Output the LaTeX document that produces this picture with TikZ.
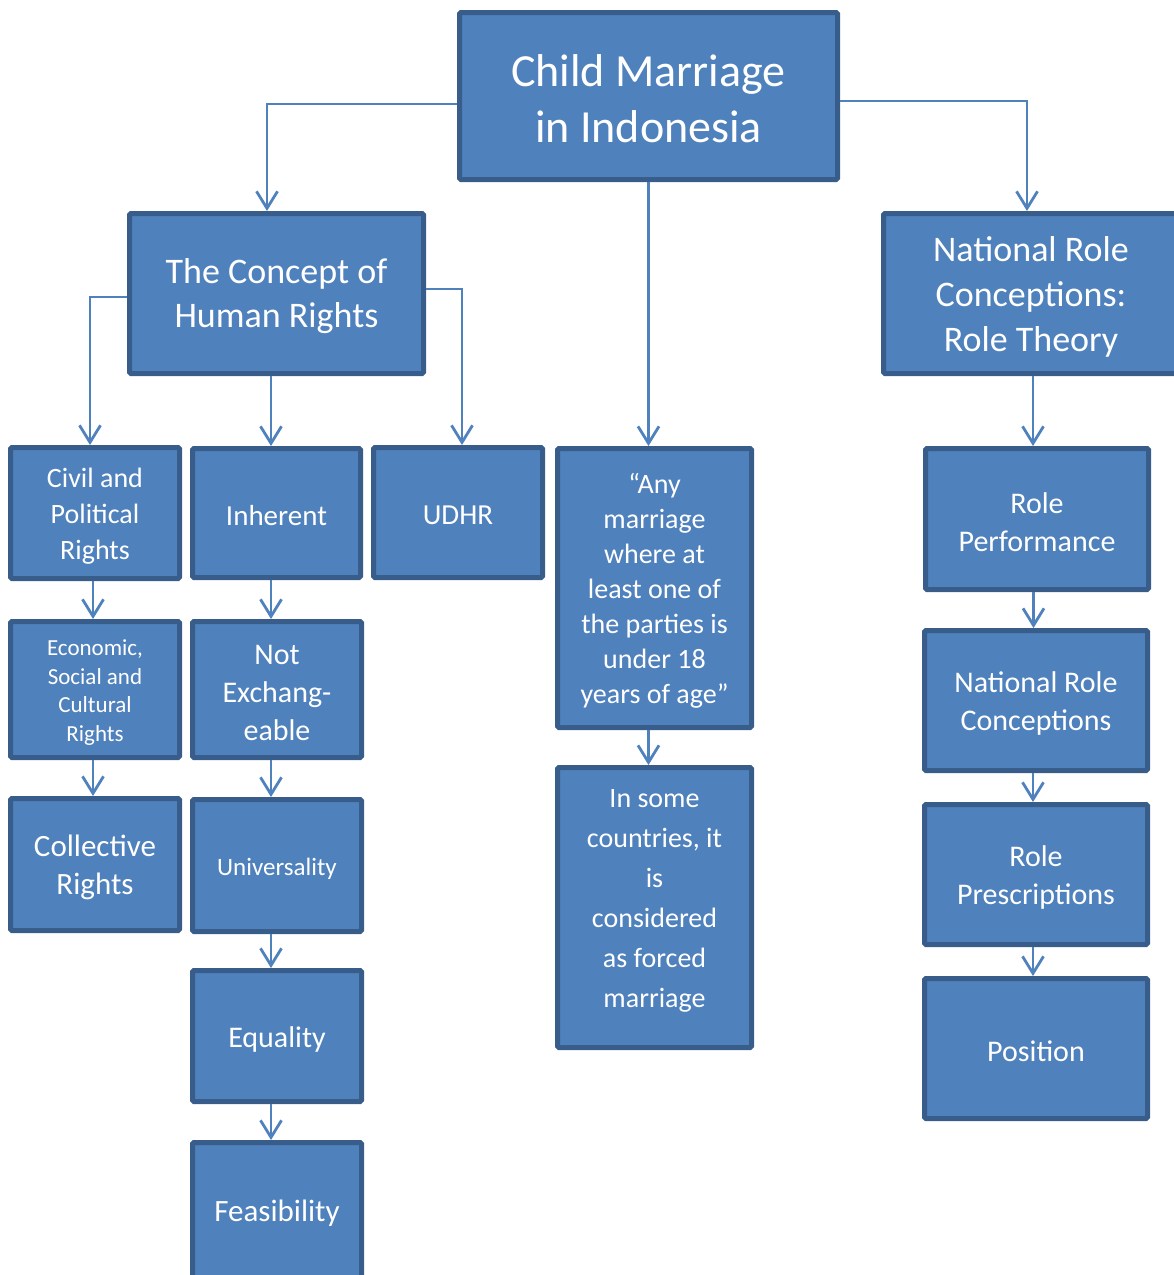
\documentclass[tikz,border=0pt]{standalone}
\usepackage{fontspec}
\setmainfont{Carlito}
\usetikzlibrary{arrows.meta}
\definecolor{boxfill}{HTML}{4F81BD}
\definecolor{boxline}{HTML}{385D8A}
\definecolor{conncol}{HTML}{4F81BD}
\tikzset{
  box/.style={rectangle, fill=boxfill, draw=boxline, line width=5pt, rounded corners=1.5pt, inner sep=0pt},
  lbl/.style={text=white, align=center, inner sep=0pt},
  conn/.style={draw=conncol, line width=2.8pt, -{Straight Barb[length=17pt,width=21pt,line width=2.8pt]}}
}
\newcommand\fs[2]{\fontsize{#1}{#2}\selectfont}
% [text shift] x1 y1 x2 y2 name font text
\newcommand\boxat[8][-3]{%
  \node[box, minimum width={#4-#2-5}, minimum height={#5-#3-5}] (#6) at ({(#2+#4)/2},{(#3+#5)/2}) {};
  \node[lbl, font=#7] (#6t) at ([yshift=#1]#6.center) {#8};}
\begin{document}
\begin{tikzpicture}[x=1pt,y=-1pt]
\useasboundingbox (0,0) rectangle (1174,1275);
\clip (0,0) rectangle (1174,1275);
% boxes
\boxat{457}{10}{840}{182}{top}{\fs{46}{56}}{Child Marriage\\in Indonesia}
\boxat{127}{211}{426}{376}{hr}{\fs{36}{44}}{The Concept of\\Human Rights}
\boxat{881}{211}{1181}{376}{nrc}{\fs{36}{45}}{National Role\\Conceptions:\\Role Theory}
\boxat{8}{445}{182}{581}{civil}{\fs{28}{36}}{Civil and\\Political\\Rights}
\boxat{190}{446}{363}{580}{inh}{\fs{29}{36}}{Inherent}
\boxat{371}{445}{545}{580}{udhr}{\fs{29}{36}}{UDHR}
\boxat{555}{446}{754}{730}{any}{\fs{28}{35}}{“Any\\marriage\\where at\\least one of\\the parties is\\under 18\\years of age”}
\boxat[7]{555}{765}{754}{1050}{forced}{\fs{28}{40}}{In some\\countries, it\\is\\considered\\as forced\\marriage}
\boxat{923}{446}{1151}{592}{rp}{\fs{30}{38}}{Role\\Performance}
\boxat{922}{628}{1150}{773}{nrc2}{\fs{30}{38}}{National Role\\Conceptions}
\boxat{922}{802}{1150}{947}{rpr}{\fs{30}{38}}{Role\\Prescriptions}
\boxat{922}{976}{1150}{1121}{pos}{\fs{30}{38}}{Position}
\boxat{8}{619}{182}{760}{econ}{\fs{23}{28.5}}{Economic,\\Social and\\Cultural\\Rights}
\boxat{190}{619}{364}{760}{nex}{\fs{30}{38}}{Not\\Exchang-\\eable}
\boxat{8}{796}{182}{933}{coll}{\fs{31}{38}}{Collective\\Rights}
\boxat{190}{797}{364}{934}{univ}{\fs{25}{32}}{Universality}
\boxat{190}{968}{364}{1104}{equ}{\fs{30}{38}}{Equality}
\boxat{190}{1140}{364}{1280}{feas}{\fs{31}{38}}{Feasibility}
% connectors
\draw[conn] ([yshift=-8]top.west) -| ([xshift=-9.5]hr.north);
\draw[conn] ([yshift=-5]top.east) -| ([xshift=-4]nrc.north);
\draw[conn] (top.south) -- (top.south |- any.north);
\draw[conn] ([yshift=-3.5]hr.west) -| ([xshift=-5]civil.north);
\draw[conn] ([xshift=-5.5]hr.south) -- ([xshift=-5.5]hr.south |- inh.north);
\draw[conn] ([yshift=4.5]hr.east) -| ([xshift=4]udhr.north);
\draw[conn] ([xshift=-2]civil.south) -- ([xshift=-2]civil.south |- econ.north);
\draw[conn] ([xshift=-2]econ.south) -- ([xshift=-2]econ.south |- coll.north);
\draw[conn] ([xshift=-5.5]inh.south) -- ([xshift=-5.5]inh.south |- nex.north);
\draw[conn] ([xshift=-6]nex.south) -- ([xshift=-6]nex.south |- univ.north);
\draw[conn] ([xshift=-6]univ.south) -- ([xshift=-6]univ.south |- equ.north);
\draw[conn] ([xshift=-6]equ.south) -- ([xshift=-6]equ.south |- feas.north);
\draw[conn] ([xshift=-6]any.south) -- ([xshift=-6]any.south |- forced.north);
\draw[conn] ([xshift=-3.5]rp.south) -- ([xshift=-3.5]rp.south |- nrc2.north);
\draw[conn] ([xshift=-3]nrc2.south) -- ([xshift=-3]nrc2.south |- rpr.north);
\draw[conn] ([xshift=-3]rpr.south) -- ([xshift=-3]rpr.south |- pos.north);
\draw[conn] ([xshift=2]nrc.south) -- ([xshift=2]nrc.south |- rp.north);
\end{tikzpicture}
\end{document}
